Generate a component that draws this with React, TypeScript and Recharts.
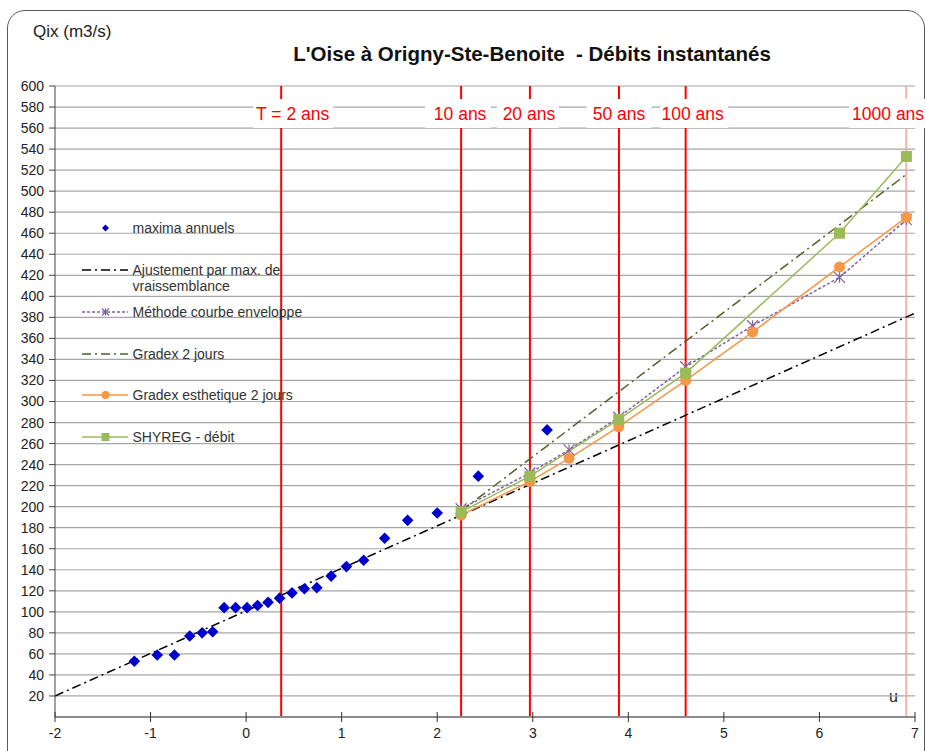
import React from "react";
import {
  ComposedChart,
  Line,
  Scatter,
  XAxis,
  YAxis,
  CartesianGrid,
  ReferenceLine,
  Legend,
} from "recharts";

// u = variable réduite de Gumbel, q = débit (m3/s)
const maximaU = [-1.17, -0.93, -0.75, -0.59, -0.46, -0.35, -0.23, -0.11, 0.01, 0.12, 0.23, 0.35, 0.48, 0.61, 0.74, 0.89, 1.05, 1.23, 1.45, 1.69, 2.0, 2.43, 3.15];
const maximaQ = [53, 59, 59, 77, 80, 81, 104, 104, 104, 106, 109, 113, 118, 122, 123, 134, 143, 149, 170, 187, 194, 229, 273];

const ajustU = [-2, 7];
const ajustQ = [20, 384];

const periodesU = [2.25, 2.97, 3.38, 3.9, 4.6, 5.3, 6.21, 6.91];
const enveloppeQ = [198, 232, 254, 285, 333, 372, 418, 473];
const gradexEsthQ = [192, 224, 246, 276, 320, 366, 428, 475];

const gradexU = [2.25, 6.91];
const gradexQ = [196, 516];

const shyregU = [2.25, 2.97, 3.9, 4.6, 6.21, 6.91];
const shyregQ = [195, 229, 283, 327, 460, 533];

const retourU = [0.367, 2.25, 2.97, 3.902, 4.6, 6.907];
const retourLabels = ["T = 2 ans", "10 ans", "20 ans", "50 ans", "100 ans", "1000 ans"];

const xTicks = [-2, -1, 0, 1, 2, 3, 4, 5, 6, 7];
const yTicks = [20, 40, 60, 80, 100, 120, 140, 160, 180, 200, 220, 240, 260, 280, 300, 320, 340, 360, 380, 400, 420, 440, 460, 480, 500, 520, 540, 560, 580, 600];

const seriesNames = [
  "maxima annuels",
  "Ajustement par max. de\nvraissemblance",
  "Méthode courbe enveloppe",
  "Gradex 2 jours",
  "Gradex esthetique 2 jours",
  "SHYREG - débit",
];

const zip = (us: number[], qs: number[]) => us.map((u, i) => ({ u, q: qs[i] }));

const BLUE = "#0000cc";
const PURPLE = "#8064a2";
const OLIVE = "#4f6228";
const ORANGE = "#f79646";
const GREEN = "#9bbb59";
const FONT = '"Liberation Sans", Arial, sans-serif';

// boîtes blanches des étiquettes de période de retour (décalage / largeur en px)
const labelBoxes = [
  { dx: 12, w: 80, tx: 11.5 },
  { dx: -3, w: 66, tx: -1 },
  { dx: -2, w: 62, tx: -1 },
  { dx: 0, w: 65, tx: 0 },
  { dx: 8.5, w: 68, tx: 7 },
  { dx: -14, w: 86, tx: -18 },
];

const diamond = (cx: number, cy: number, r = 5.8) =>
  `M${cx},${cy - r}L${cx + r},${cy}L${cx},${cy + r}L${cx - r},${cy}Z`;

function Star({ cx, cy, s = 5.5 }: { cx: number; cy: number; s?: number }) {
  return (
    <g stroke={PURPLE} strokeWidth={1.2}>
      <line x1={cx - s} y1={cy - s} x2={cx + s} y2={cy + s} />
      <line x1={cx - s} y1={cy + s} x2={cx + s} y2={cy - s} />
      <line x1={cx} y1={cy - s} x2={cx} y2={cy + s} />
    </g>
  );
}

function XTick({ x, y, payload }: any) {
  return (
    <g>
      <line x1={x} x2={x} y1={y - 5} y2={y + 5} stroke="#333" />
      <text x={x} y={y + 21} textAnchor="middle" fontSize={14} fill="#222" fontFamily={FONT}>
        {payload.value}
      </text>
    </g>
  );
}

function periodLabel(i: number) {
  return (props: any) => {
    const { x, y } = props.viewBox;
    const b = labelBoxes[i];
    return (
      <g>
        <rect x={x + b.dx - b.w / 2} y={y + 13} width={b.w} height={29} fill="#fff" />
        <text x={x + b.tx} y={y + 34} textAnchor="middle" fontSize={17.5} fill="#ff0000" fontFamily={FONT}>
          {retourLabels[i]}
        </text>
      </g>
    );
  };
}

function LegendBox() {
  const rows = [14, 56, 98, 140, 181, 223];
  const sample = (i: number, y: number) => {
    switch (i) {
      case 0:
        return <path d={diamond(27.5, y, 3.5)} fill={BLUE} />;
      case 1:
        return <line x1={4} x2={50} y1={y} y2={y} stroke="#000" strokeWidth={1.5} strokeDasharray="9 4 2 4" />;
      case 2:
        return (
          <g>
            <line x1={4} x2={50} y1={y} y2={y} stroke={PURPLE} strokeWidth={1.5} strokeDasharray="3 2" />
            <Star cx={27.5} cy={y} s={3.5} />
          </g>
        );
      case 3:
        return <line x1={4} x2={50} y1={y} y2={y} stroke={OLIVE} strokeWidth={1.5} strokeDasharray="9 4 2 4" />;
      case 4:
        return (
          <g>
            <line x1={4} x2={50} y1={y} y2={y} stroke={ORANGE} strokeWidth={1.5} />
            <circle cx={27.5} cy={y} r={4} fill={ORANGE} />
          </g>
        );
      default:
        return (
          <g>
            <line x1={4} x2={50} y1={y} y2={y} stroke={GREEN} strokeWidth={1.5} />
            <rect x={23.5} y={y - 4} width={8} height={8} fill={GREEN} />
          </g>
        );
    }
  };
  return (
    <svg width={260} height={240} style={{ overflow: "visible" }}>
      {seriesNames.map((name, i) => (
        <g key={name}>
          {sample(i, rows[i])}
          {name.split("\n").map((line, j) => (
            <text key={j} x={54.5} y={rows[i] + 5 + j * 16} fontSize={14} fill="#333" fontFamily={FONT}>
              {line}
            </text>
          ))}
        </g>
      ))}
    </svg>
  );
}

export default function App() {
  return (
    <div
      style={{
        position: "fixed",
        left: 0,
        top: 0,
        width: 926,
        height: 751,
        overflow: "hidden",
        background: "#fff",
        fontFamily: FONT,
      }}
    >
      <div
        style={{
          position: "absolute",
          left: 7,
          top: 10,
          width: 918,
          height: 800,
          boxSizing: "border-box",
          border: "1.5px solid #595959",
          borderRadius: 18,
        }}
      />
      <div style={{ position: "absolute", left: 33, top: 22, fontSize: 17, color: "#222" }}>Qix (m3/s)</div>
      <div
        style={{
          position: "absolute",
          left: 0,
          width: 1064,
          top: 42,
          textAlign: "center",
          fontSize: 20.5,
          fontWeight: "bold",
          color: "#111",
          whiteSpace: "pre",
        }}
      >
        {"L'Oise à Origny-Ste-Benoite  - Débits instantanés"}
      </div>
      <div style={{ position: "absolute", left: 889, top: 688, fontSize: 16, color: "#222" }}>u</div>
      <div style={{ position: "absolute", left: 0, top: 0 }}>
        <ComposedChart width={926} height={751} margin={{ top: 86, right: 11, bottom: 4, left: 10 }}>
          <CartesianGrid vertical={false} stroke="#a6a6a6" strokeWidth={1.2} />
          <XAxis
            type="number"
            dataKey="u"
            domain={[-2, 7]}
            ticks={xTicks}
            interval={0}
            allowDataOverflow
            height={30}
            tickSize={0}
            tickMargin={0}
            tickLine={false}
            tick={<XTick />}
            axisLine={{ stroke: "#8c8c8c", strokeWidth: 2 }}
          />
          <YAxis
            type="number"
            domain={[0, 600]}
            ticks={yTicks}
            interval={0}
            allowDataOverflow
            width={45}
            tickSize={6}
            tickMargin={5}
            tick={{ fontSize: 14, fill: "#222", fontFamily: FONT }}
            tickLine={{ stroke: "#444" }}
            axisLine={{ stroke: "#444" }}
          />
          {retourU.map((u, i) => (
            <ReferenceLine
              key={retourLabels[i]}
              x={u}
              stroke={i === 5 ? "#f4a3a3" : "#ff0000"}
              strokeWidth={i === 5 ? 1.5 : 2}
              label={periodLabel(i)}
            />
          ))}
          <Scatter
            name={seriesNames[0]}
            data={zip(maximaU, maximaQ)}
            dataKey="q"
            isAnimationActive={false}
            shape={(p: any) => <path d={diamond(p.cx, p.cy)} fill={BLUE} />}
          />
          <Line
            name={seriesNames[1]}
            data={zip(ajustU, ajustQ)}
            dataKey="q"
            stroke="#000"
            strokeWidth={1.5}
            strokeDasharray="9 4 2 4"
            dot={false}
            activeDot={false}
            isAnimationActive={false}
          />
          <Line
            name={seriesNames[2]}
            data={zip(periodesU, enveloppeQ)}
            dataKey="q"
            stroke={PURPLE}
            strokeWidth={1.5}
            strokeDasharray="3 2"
            dot={(p: any) => <Star key={p.index} cx={p.cx} cy={p.cy} />}
            activeDot={false}
            isAnimationActive={false}
          />
          <Line
            name={seriesNames[3]}
            data={zip(gradexU, gradexQ)}
            dataKey="q"
            stroke={OLIVE}
            strokeWidth={1.5}
            strokeDasharray="10 4 2 4"
            dot={false}
            activeDot={false}
            isAnimationActive={false}
          />
          <Line
            name={seriesNames[4]}
            data={zip(periodesU, gradexEsthQ)}
            dataKey="q"
            stroke={ORANGE}
            strokeWidth={1.5}
            dot={(p: any) => <circle key={p.index} cx={p.cx} cy={p.cy} r={5.5} fill={ORANGE} />}
            activeDot={false}
            isAnimationActive={false}
          />
          <Line
            name={seriesNames[5]}
            data={zip(shyregU, shyregQ)}
            dataKey="q"
            stroke={GREEN}
            strokeWidth={1.5}
            dot={(p: any) => <rect key={p.index} x={p.cx - 5.5} y={p.cy - 5.5} width={11} height={11} fill={GREEN} />}
            activeDot={false}
            isAnimationActive={false}
          />
          <Legend
            layout="vertical"
            align="center"
            verticalAlign="middle"
            wrapperStyle={{ left: 78, top: 214, width: 260 }}
            content={() => <LegendBox />}
          />
        </ComposedChart>
      </div>
    </div>
  );
}
